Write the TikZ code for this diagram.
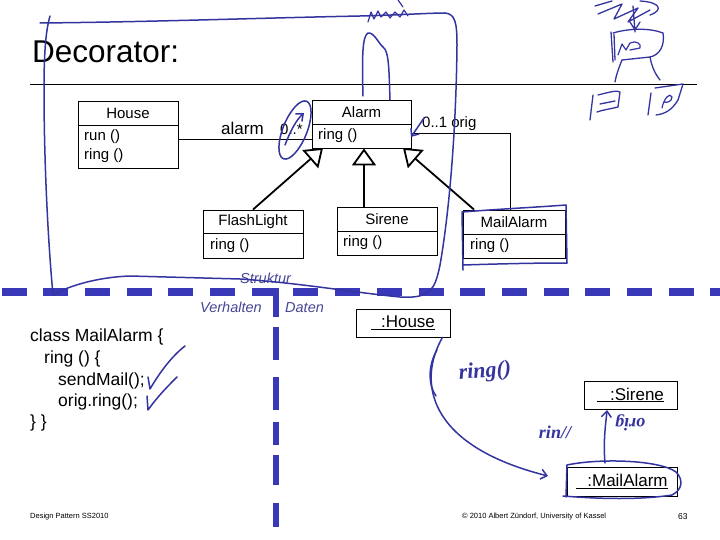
\documentclass[tikz,border=0pt]{standalone}
\usepackage{fontspec}
\setmainfont{Liberation Sans}
\newfontfamily\hand{Liberation Serif}
\usetikzlibrary{arrows.meta}
\definecolor{ink}{RGB}{52,52,160}
\definecolor{dashblue}{RGB}{56,56,184}
\definecolor{labblue}{RGB}{70,70,150}
\tikzset{
  classbox/.style={draw, line width=0.9pt, inner sep=0pt},
  objbox/.style={draw, line width=0.9pt, inner sep=0pt, font=\fontsize{17}{17}\selectfont},
  txt/.style={inner sep=0pt, font=\fontsize{15}{15}\selectfont},
  codetxt/.style={inner sep=0pt, anchor=base west, font=\fontsize{17.5}{17.5}\selectfont},
  divlbl/.style={inner sep=0pt, anchor=base west, text=labblue, font=\fontsize{14.5}{14.5}\selectfont\itshape},
  inh/.style={line width=1.8pt, -{Triangle[open, length=17pt, width=24pt, line width=1.8pt]}},
  assoc/.style={line width=0.9pt},
  ink/.style={draw=ink, line width=1.5pt, line cap=round, line join=round},
  inkarrow/.style={ink, -{Straight Barb[length=6pt, width=10pt, line width=1.5pt]}},
  handtxt/.style={inner sep=0pt, text=ink, font=\hand\itshape\bfseries\fontsize{22}{22}\selectfont},
  bigdash/.style={draw=dashblue, line width=8pt, dash pattern=on 25pt off 16.7pt},
  vdash/.style={draw=dashblue, line width=6pt},
  foot/.style={inner sep=0pt, anchor=base west, font=\fontsize{7.5}{7.5}\selectfont}
}
\begin{document}
\begin{tikzpicture}[x=1pt, y=-1pt]
\useasboundingbox (0,0) rectangle (720,540);

% title and rule
\node[inner sep=0pt, anchor=base west, font=\fontsize{31.5}{31.5}\selectfont] (title) at (32,63) {Decorator:};
\coordinate (ruleL) at (30,84);
\coordinate (ruleR) at (697,84);
\draw[line width=0.9pt] (ruleL) -- (ruleR);

% class House
\node[classbox, minimum width=100pt, minimum height=67pt] (house) at (128,134.5) {};
\draw[line width=0.9pt] (78,125) -- (178,125);
\node[txt] at (128,113) {House};
\node[txt, anchor=west] at (84,137) {run ()};
\node[txt, anchor=west] at (84,156) {ring ()};

% class Alarm
\node[classbox, minimum width=99pt, minimum height=48pt] (alarm) at (361.5,124) {};
\draw[line width=0.9pt] (312,124) -- (411,124);
\node[txt] at (361.5,112.5) {Alarm};
\node[txt, anchor=west] at (318,136) {ring ()};

% class FlashLight
\node[classbox, minimum width=100pt, minimum height=48pt] (flash) at (253,234) {};
\draw[line width=0.9pt] (203,233) -- (303,233);
\node[txt] at (253,221.5) {FlashLight};
\node[txt, anchor=west] at (210,246) {ring ()};

% class Sirene
\node[classbox, minimum width=100pt, minimum height=48pt] (sirene) at (387,231) {};
\draw[line width=0.9pt] (337,231) -- (437,231);
\node[txt] at (387,219) {Sirene};
\node[txt, anchor=west] at (343,243) {ring ()};

% class MailAlarm
\node[classbox, minimum width=102pt, minimum height=48pt] (mail) at (514,234) {};
\draw[line width=0.9pt] (463,234) -- (565,234);
\node[txt] at (514,222) {MailAlarm};
\node[txt, anchor=west] at (470,246) {ring ()};

% association House -- Alarm
\coordinate (assocy) at (0,139);
\draw[assoc] (house.east |- assocy) -- (alarm.west |- assocy);
\node[inner sep=0pt, anchor=base west, font=\fontsize{17}{17}\selectfont] at (221,135) {alarm};
\node[inner sep=0pt, anchor=base west, font=\fontsize{15}{15}\selectfont] at (280,135) {0..*};

% association Alarm -- MailAlarm (orig)
\coordinate (origy) at (0,133);
\coordinate (origcorner) at (510,133);
\draw[assoc] (alarm.east |- origy) -- (origcorner) -- (origcorner |- mail.north);
\node[inner sep=0pt, anchor=base west, font=\fontsize{15}{15}\selectfont] at (422,128) {0..1 orig};

% inheritance
\draw[inh] (flash.north) -- (323,148);
\draw[inh] ([xshift=-23pt]sirene.north) -- ([xshift=2.5pt]alarm.south);
\draw[inh] ([xshift=-40pt]mail.north) -- (403,148);

% dashed separators
\draw[bigdash] (1.5,292) -- (725,292);
\draw[vdash] (276,288) -- (276,317);
\foreach \a/\b in {327/360,377/410,422/445,455/485,503/527}
  \draw[vdash] (276,\a) -- (276,\b);
\node[divlbl] at (240,283) {Struktur};
\node[divlbl] at (200,312) {Verhalten};
\node[divlbl] at (285,312) {Daten};

% code
\node[codetxt] at (30,341) {class MailAlarm \{};
\node[codetxt] at (44,363) {ring () \{};
\node[codetxt] at (58,385) {sendMail();};
\node[codetxt] at (58,406) {orig.ring();};
\node[codetxt] at (30,427) {\} \}};

% object boxes
\node[objbox, minimum width=94pt, minimum height=28pt] (hobj) at (403,323) {\underline{\hspace{10pt}:House}};
\node[objbox, minimum width=93pt, minimum height=28pt] (sobj) at (630.5,395) {\underline{\hspace{13pt}:Sirene}};
\node[objbox, minimum width=110pt, minimum height=29pt] (mobj) at (622,481.5) {\underline{\hspace{11pt}:MailAlarm}};

% footer
\node[foot] at (30,518) {Design Pattern SS2010};
\node[foot] at (462,518) {© 2010 Albert Zündorf, University of Kassel};
\node[foot, font=\fontsize{8.5}{8.5}\selectfont] at (678,519) {63};

% ---------------- handwritten ink ----------------
% big enclosing loop
\draw[ink] (40,23) .. controls (150,22) and (260,18) .. (360,16) .. controls (400,15) and (430,13) .. (445,13)
  .. controls (455,14) and (457,22) .. (457,45) .. controls (456,140) and (448,220) .. (440,265)
  .. controls (437,280) and (434,287) .. (430,290) .. controls (425,296) and (415,298) .. (400,297)
  .. controls (350,292) and (300,283) .. (240,279) -- (130,276) .. controls (100,277) and (70,285) .. (53,295)
  .. controls (47,230) and (44,150) .. (44,90) .. controls (44,50) and (46,30) .. (50,16);
% inner arch
\draw[ink] (363,96) .. controls (362,60) and (362,36) .. (368,33) .. controls (374,32) and (379,44) .. (383,47)
  .. controls (389,51) and (389,70) .. (390,100);
% scribble at top
\draw[ink, line width=1.2pt] (368,22) -- (371,12) -- (374,19) -- (378,11) -- (381,17) -- (386,12) -- (390,18) -- (395,12) -- (400,17) -- (404,10) -- (408,16);
\draw[ink, line width=1.2pt] (398,0) -- (403,7);
% ellipse around 0..*
\draw[ink, shift={(295,130)}, rotate=-22] (0,0) ellipse [x radius=12, y radius=31];
\draw[inkarrow] (285,145) .. controls (290,132) and (296,120) .. (304,113);
% arrow at 0..1 orig
\draw[inkarrow] (424,118) -- (411,137);
% box around MailAlarm class
\draw[ink] (463,270) -- (462,212) .. controls (500,209) and (540,207) .. (566,205) -- (567,263)
  .. controls (530,263) and (495,264) .. (463,265);
% check marks
\draw[ink] (148,377) -- (150,389) .. controls (160,372) and (172,356) .. (185,346);
\draw[ink] (147,396) -- (148,410) .. controls (158,396) and (168,386) .. (177,377);
% ring() message arrow
\draw[inkarrow] ([xshift=-8pt]hobj.south east) .. controls (418,380) and (425,445) .. (548,476);
\draw[ink] (437,350) .. controls (428,365) and (428,385) .. (436,396);
\node[handtxt, rotate=5] at (485,372) {ring()};
% arrow MailAlarm -> Sirene
\draw[inkarrow] (605,463) .. controls (603,440) and (606,422) .. (607,410);
\node[handtxt, font=\hand\itshape\bfseries\fontsize{18}{18}\selectfont] at (555,432) {rin//};
\node[handtxt, font=\hand\itshape\bfseries\fontsize{18}{18}\selectfont, rotate=180] at (630,423) {orig};
% loop round :MailAlarm
\draw[ink] (566,497) -- (567,465) .. controls (600,458) and (660,460) .. (676,472) .. controls (684,480) and (682,490) .. (672,495)
  .. controls (640,500) and (600,499) .. (563,496);
% sketch at top right
\draw[ink, line width=1.3pt] (595,6) -- (612,1) (598,14) -- (622,4) -- (614,19) -- (638,8) -- (628,22) -- (650,10) (640,1) .. controls (660,2) and (664,10) .. (650,15);
\draw[ink, line width=1.3pt] (633,6) -- (635,32) (630,22) -- (635,30) -- (640,22);
\draw[ink, line width=1.3pt] (611,32) -- (613,62) (614,34) -- (615,60);
\draw[ink, line width=1.3pt] (613,33) .. controls (630,28) and (650,28) .. (663,33) .. controls (665,45) and (660,55) .. (650,57) -- (622,60);
\draw[ink, line width=1.2pt] (618,55) -- (622,44) -- (626,50) -- (630,43) .. controls (636,40) and (642,44) .. (640,48) -- (630,50);
\draw[ink, line width=1.3pt] (622,60) .. controls (618,70) and (616,76) .. (615,82) (650,57) .. controls (652,68) and (656,75) .. (660,80);
\draw[ink, line width=1.3pt] (593,95) -- (590,120);
\draw[ink, line width=1.3pt] (598,95) .. controls (610,92) and (617,90) .. (620,92) -- (618,107) .. controls (610,109) and (602,110) .. (597,112) (600,104) -- (615,101);
\draw[ink, line width=1.3pt] (651,93) -- (648,115);
\draw[ink, line width=1.3pt] (655,88) -- (683,84) -- (678,100) .. controls (672,110) and (665,114) .. (656,115);
\draw[ink, line width=1.2pt] (662,108) .. controls (664,98) and (670,92) .. (672,97) .. controls (672,102) and (666,103) .. (664,102);
\end{tikzpicture}
\end{document}
